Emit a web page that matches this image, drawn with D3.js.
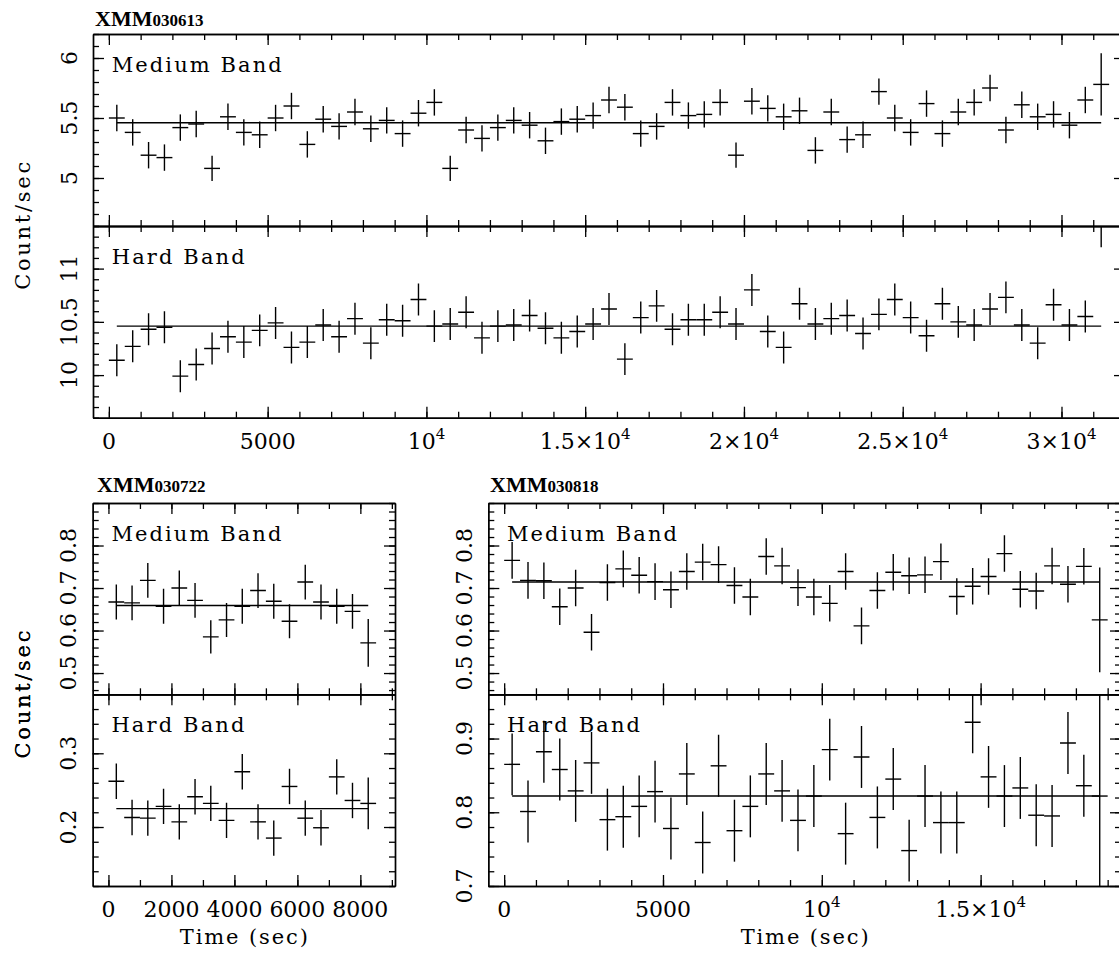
<!DOCTYPE html>
<html><head><meta charset="utf-8">
<script src="https://cdn.jsdelivr.net/npm/d3@7"></script>
<style>body{margin:0;background:#fff} svg{display:block;background:#fff}</style>
</head><body><svg id="c" width="1119" height="954"></svg>
<script>
// ---------------- DATA ----------------
const TITLES = [["XMM","030613"],["XMM","030722"],["XMM","030818"]];
const BAND_LABELS = ["Medium Band","Hard Band"];
const Y_TITLE = "Count/sec";
const X_TITLE = "Time (sec)";
const BIN_HALF = 250; // half width of the 500 s time bins

// XMM030613
const TOP_TIME = [250,750,1250,1750,2250,2750,3250,3750,4250,4750,5250,5750,6250,6750,7250,7750,8250,8750,9250,9750,10250,10750,11250,11750,12250,12750,13250,13750,14250,14750,15250,15750,16250,16750,17250,17750,18250,18750,19250,19750,20250,20750,21250,21750,22250,22750,23250,23750,24250,24750,25250,25750,26250,26750,27250,27750,28250,28750,29250,29750,30250,30750,31250];
const TOP_MED = [5.50,5.38,5.19,5.17,5.42,5.45,5.08,5.51,5.38,5.36,5.50,5.60,5.28,5.49,5.43,5.55,5.41,5.48,5.37,5.54,5.63,
  5.08,5.40,5.33,5.42,5.48,5.44,5.31,5.47,5.49,5.52,5.65,5.59,5.37,5.43,5.63,5.52,5.53,5.63,5.19,5.64,5.58,
  5.51,5.56,5.23,5.55,5.32,5.36,5.72,5.50,5.38,5.62,5.37,5.55,5.63,5.75,5.40,5.61,5.51,5.53,5.44,5.65,5.78];
const TOP_MED_ERR = [0.11,0.11,0.11,0.11,0.11,0.11,0.105,0.11,0.11,0.11,0.11,0.11,0.11,0.11,0.11,0.11,0.11,0.11,0.11,0.11,0.11,
  0.105,0.11,0.11,0.11,0.11,0.11,0.11,0.11,0.11,0.11,0.11,0.11,0.11,0.11,0.11,0.11,0.11,0.11,0.105,0.11,0.11,
  0.11,0.11,0.11,0.11,0.11,0.11,0.11,0.11,0.11,0.11,0.11,0.11,0.11,0.11,0.11,0.11,0.11,0.11,0.11,0.11,0.26];
const TOP_MED_MEAN = 5.46;
const TOP_HARD = [10.14,10.27,10.43,10.45,9.99,10.10,10.25,10.36,10.31,10.42,10.49,10.26,10.31,10.47,10.36,10.53,10.30,10.52,10.51,10.71,10.46,
  10.48,10.59,10.35,10.46,10.47,10.56,10.44,10.35,10.41,10.48,10.62,10.15,10.54,10.65,10.43,10.52,10.52,10.59,10.48,10.80,10.41,
  10.26,10.67,10.48,10.53,10.56,10.39,10.57,10.71,10.54,10.37,10.67,10.50,10.47,10.62,10.73,10.47,10.30,10.66,10.47,10.55,11.55];
const TOP_HARD_ERR = [0.15,0.15,0.15,0.15,0.15,0.15,0.15,0.15,0.15,0.15,0.15,0.15,0.15,0.15,0.15,0.15,0.15,0.15,0.15,0.15,0.15,
  0.15,0.15,0.15,0.15,0.15,0.15,0.15,0.15,0.15,0.15,0.15,0.15,0.15,0.15,0.15,0.15,0.15,0.15,0.15,0.15,0.15,
  0.15,0.15,0.15,0.15,0.15,0.15,0.15,0.15,0.15,0.15,0.15,0.15,0.15,0.15,0.15,0.15,0.15,0.15,0.15,0.15,0.35];
const TOP_HARD_MEAN = 10.46;

// XMM030722
const BL_TIME = [250,750,1250,1750,2250,2750,3250,3750,4250,4750,5250,5750,6250,6750,7250,7750,8250];
const BL_MED = [0.667,0.665,0.718,0.657,0.700,0.671,0.585,0.625,0.657,0.694,0.669,0.622,0.714,0.667,0.657,0.645,0.571];
const BL_MED_ERR = [0.041,0.041,0.041,0.041,0.041,0.041,0.039,0.040,0.041,0.041,0.041,0.040,0.041,0.041,0.041,0.041,0.056];
const BL_MED_MEAN = 0.659;
const BL_HARD = [0.262,0.213,0.212,0.228,0.207,0.241,0.232,0.209,0.275,0.207,0.185,0.255,0.212,0.199,0.268,0.236,0.232];
const BL_HARD_ERR = [0.024,0.024,0.024,0.024,0.024,0.024,0.024,0.024,0.024,0.024,0.024,0.024,0.024,0.024,0.024,0.024,0.035];
const BL_HARD_MEAN = 0.225;

// XMM030818
const BR_TIME = [250,750,1250,1750,2250,2750,3250,3750,4250,4750,5250,5750,6250,6750,7250,7750,8250,8750,9250,9750,10250,10750,11250,11750,12250,12750,13250,13750,14250,14750,15250,15750,16250,16750,17250,17750,18250,18750];
const BR_MED = [0.765,0.718,0.717,0.656,0.700,0.596,0.713,0.745,0.730,0.715,0.696,0.739,0.761,0.755,0.706,0.679,0.774,0.752,0.701,
  0.679,0.664,0.739,0.611,0.694,0.737,0.729,0.731,0.762,0.680,0.704,0.727,0.781,0.697,0.693,0.752,0.709,0.751,0.625];
const BR_MED_ERR = [0.043,0.043,0.043,0.043,0.043,0.043,0.043,0.043,0.043,0.043,0.043,0.043,0.043,0.043,0.043,0.043,0.043,0.043,0.043,
  0.043,0.043,0.043,0.043,0.043,0.043,0.043,0.043,0.043,0.043,0.043,0.043,0.043,0.043,0.043,0.043,0.043,0.043,0.123];
const BR_MED_MEAN = 0.714;
const BR_HARD = [0.865,0.801,0.882,0.858,0.829,0.867,0.790,0.794,0.808,0.828,0.778,0.852,0.759,0.863,0.775,0.808,0.852,0.829,0.789,
  0.822,0.885,0.771,0.875,0.793,0.845,0.748,0.822,0.786,0.786,0.922,0.848,0.822,0.833,0.796,0.795,0.894,0.836,0.822];
const BR_HARD_ERR = [0.042,0.042,0.042,0.042,0.042,0.042,0.042,0.042,0.042,0.042,0.042,0.042,0.042,0.042,0.042,0.042,0.042,0.042,0.042,
  0.042,0.042,0.042,0.042,0.042,0.042,0.042,0.042,0.042,0.042,0.042,0.042,0.042,0.042,0.042,0.042,0.042,0.042,0.35];
const BR_HARD_MEAN = 0.822;

// tick values / labels
const TOP_X_TICKS = [0,5000,10000,15000,20000,25000,30000];
const TOP_X_LABELS = ["0","5000","10^4","1.5×10^4","2×10^4","2.5×10^4","3×10^4"];
const TOP_MED_TICKS = [5,5.5,6];       const TOP_MED_LABELS = ["5","5.5","6"];
const TOP_HARD_TICKS = [10,10.5,11];   const TOP_HARD_LABELS = ["10","10.5","11"];
const BL_X_TICKS = [0,2000,4000,6000,8000]; const BL_X_LABELS = ["0","2000","4000","6000","8000"];
const MED_TICKS_B = [0.5,0.6,0.7,0.8]; const MED_LABELS_B = ["0.5","0.6","0.7","0.8"];
const BL_HARD_TICKS = [0.2,0.3];       const BL_HARD_LABELS = ["0.2","0.3"];
const BR_X_TICKS = [0,5000,10000,15000]; const BR_X_LABELS = ["0","5000","10^4","1.5×10^4"];
const BR_HARD_TICKS = [0.7,0.8,0.9];   const BR_HARD_LABELS = ["0.7","0.8","0.9"];

// ---------------- DRAWING ----------------
const svg = d3.select("#c");
const root = svg.append("g").attr("font-family","'DejaVu Serif', serif").attr("fill","#000");
let clipN = 0;

function steps(a, b, s){ const n=Math.round((b-a)/s), o=[]; for(let k=0;k<=n;k++) o.push(+(a+k*s).toFixed(6)); return o; }

function styleAxis(g){
  g.select("path.domain").attr("stroke","#000").attr("stroke-width",1.4);
  g.selectAll(".tick line").attr("stroke","#000").attr("stroke-width",1.3);
  g.selectAll(".tick text").remove();
}

function xLabel(g, x, y, s){
  const t = g.append("text").attr("x",x).attr("y",y).attr("text-anchor","middle").attr("font-size",22);
  const parts = s.split("^");
  t.append("tspan").text(parts[0]);
  if (parts[1]) t.append("tspan").attr("font-size",15).attr("dy",-10).text(parts[1]);
}

function drawPanel(p){
  const g = root.append("g");
  const x = d3.scaleLinear().domain(p.xDomain).range([p.left, p.right]);
  const subs = [
    Object.assign({}, p.med, {y: d3.scaleLinear().domain(p.med.domain).range([p.mid, p.top]), y0:p.top, y1:p.mid, lab:BAND_LABELS[0], len:170}),
    Object.assign({}, p.hard,{y: d3.scaleLinear().domain(p.hard.domain).range([p.bottom, p.mid]), y0:p.mid, y1:p.bottom, lab:BAND_LABELS[1], len:133})
  ];
  [[d3.axisBottom,p.bottom],[d3.axisTop,p.top],[d3.axisBottom,p.mid],[d3.axisTop,p.mid]].forEach(([fn,yy])=>{
    [[p.xTicks,11],[p.xMinor,6]].forEach(([vals,len])=>{
      g.append("g").attr("transform",`translate(0,${yy})`)
        .call(fn(x).tickValues(vals).tickSizeInner(-len).tickSizeOuter(0).tickFormat(()=>"")).call(styleAxis);
    });
  });
  p.xTicks.forEach((v,i)=> xLabel(g, x(v), p.bottom+31, p.xLabels[i]));
  if (p.xTitle) g.append("text").attr("x",(p.left+p.right)/2).attr("y",p.bottom+58).attr("text-anchor","middle")
      .attr("font-size",21).attr("textLength",128).attr("lengthAdjust","spacing").text(X_TITLE);
  g.append("text").attr("transform",`translate(30,${(p.top+p.bottom)/2}) rotate(-90)`).attr("text-anchor","middle")
    .attr("font-size",21).attr("textLength",128).attr("lengthAdjust","spacing").text(Y_TITLE);
  const tt = g.append("text").attr("x",p.titleX).attr("y",p.titleY).attr("font-family","'Liberation Serif', serif").attr("font-weight","bold");
  tt.append("tspan").attr("font-size",22).text(p.title[0]);
  tt.append("tspan").attr("font-size",17).text(p.title[1]);

  subs.forEach(s=>{
    [[d3.axisLeft,p.left],[d3.axisRight,p.right]].forEach(([fn,xx])=>{
      [[s.ticks,11],[s.minor,6]].forEach(([vals,len])=>{
        g.append("g").attr("transform",`translate(${xx},0)`)
          .call(fn(s.y).tickValues(vals).tickSizeInner(-len).tickSizeOuter(0).tickFormat(()=>"")).call(styleAxis);
      });
    });
    s.ticks.forEach((v,i)=>{
      g.append("text").attr("transform",`translate(${p.left-16.5},${s.y(v)}) rotate(-90)`)
        .attr("text-anchor","middle").attr("font-size",22).text(s.labels[i]);
    });
    g.append("text").attr("x",p.left+18.7).attr("y",s.y0+37.6).attr("font-size",21)
      .attr("textLength",s.len).attr("lengthAdjust","spacing").text(s.lab);
    const id = "clip"+(clipN++);
    svg.append("clipPath").attr("id",id).append("rect")
      .attr("x",p.left).attr("y",s.y0).attr("width",p.right-p.left).attr("height",s.y1-s.y0);
    const dg = g.append("g").attr("clip-path",`url(#${id})`).attr("stroke","#000").attr("stroke-width",1.4);
    dg.append("line").attr("x1",x(s.time[0])).attr("x2",x(s.time[s.time.length-1]))
      .attr("y1",s.y(s.mean)).attr("y2",s.y(s.mean));
    const pts = s.time.map((t,i)=>({t, v:s.vals[i], e:s.errs[i]}));
    dg.selectAll("line.v").data(pts).enter().append("line").attr("class","v")
      .attr("x1",d=>x(d.t)).attr("x2",d=>x(d.t)).attr("y1",d=>s.y(d.v-d.e)).attr("y2",d=>s.y(d.v+d.e));
    dg.selectAll("line.h").data(pts).enter().append("line").attr("class","h")
      .attr("x1",d=>x(d.t-BIN_HALF)).attr("x2",d=>x(d.t+BIN_HALF)).attr("y1",d=>s.y(d.v)).attr("y2",d=>s.y(d.v));
  });
}

drawPanel({
  left:93, right:1125, top:34, mid:226, bottom:417.7, xDomain:[-500,32000],
  xTicks:TOP_X_TICKS, xLabels:TOP_X_LABELS, xMinor:steps(0,32000,1000), xTitle:false,
  title:TITLES[0], titleX:95, titleY:26,
  med:{domain:[4.6,6.2], ticks:TOP_MED_TICKS, labels:TOP_MED_LABELS, minor:steps(4.6,6.2,0.1),
       time:TOP_TIME, vals:TOP_MED, errs:TOP_MED_ERR, mean:TOP_MED_MEAN},
  hard:{domain:[9.6,11.4], ticks:TOP_HARD_TICKS, labels:TOP_HARD_LABELS, minor:steps(9.6,11.4,0.1),
       time:TOP_TIME, vals:TOP_HARD, errs:TOP_HARD_ERR, mean:TOP_HARD_MEAN}
});
drawPanel({
  left:92.7, right:395, top:503, mid:694.3, bottom:886, xDomain:[-500,9100],
  xTicks:BL_X_TICKS, xLabels:BL_X_LABELS, xMinor:steps(0,9000,1000), xTitle:true,
  title:TITLES[1], titleX:97, titleY:492,
  med:{domain:[0.45,0.9], ticks:MED_TICKS_B, labels:MED_LABELS_B, minor:steps(0.46,0.9,0.02),
       time:BL_TIME, vals:BL_MED, errs:BL_MED_ERR, mean:BL_MED_MEAN},
  hard:{domain:[0.12,0.38], ticks:BL_HARD_TICKS, labels:BL_HARD_LABELS, minor:steps(0.12,0.38,0.02),
       time:BL_TIME, vals:BL_HARD, errs:BL_HARD_ERR, mean:BL_HARD_MEAN}
});
drawPanel({
  left:488.3, right:1121, top:503, mid:694.3, bottom:886, xDomain:[-500,19420],
  xTicks:BR_X_TICKS, xLabels:BR_X_LABELS, xMinor:steps(0,19000,1000), xTitle:true,
  title:TITLES[2], titleX:490, titleY:492,
  med:{domain:[0.45,0.9], ticks:MED_TICKS_B, labels:MED_LABELS_B, minor:steps(0.46,0.9,0.02),
       time:BR_TIME, vals:BR_MED, errs:BR_MED_ERR, mean:BR_MED_MEAN},
  hard:{domain:[0.7,0.96], ticks:BR_HARD_TICKS, labels:BR_HARD_LABELS, minor:steps(0.7,0.96,0.02),
       time:BR_TIME, vals:BR_HARD, errs:BR_HARD_ERR, mean:BR_HARD_MEAN}
});
</script></body></html>
